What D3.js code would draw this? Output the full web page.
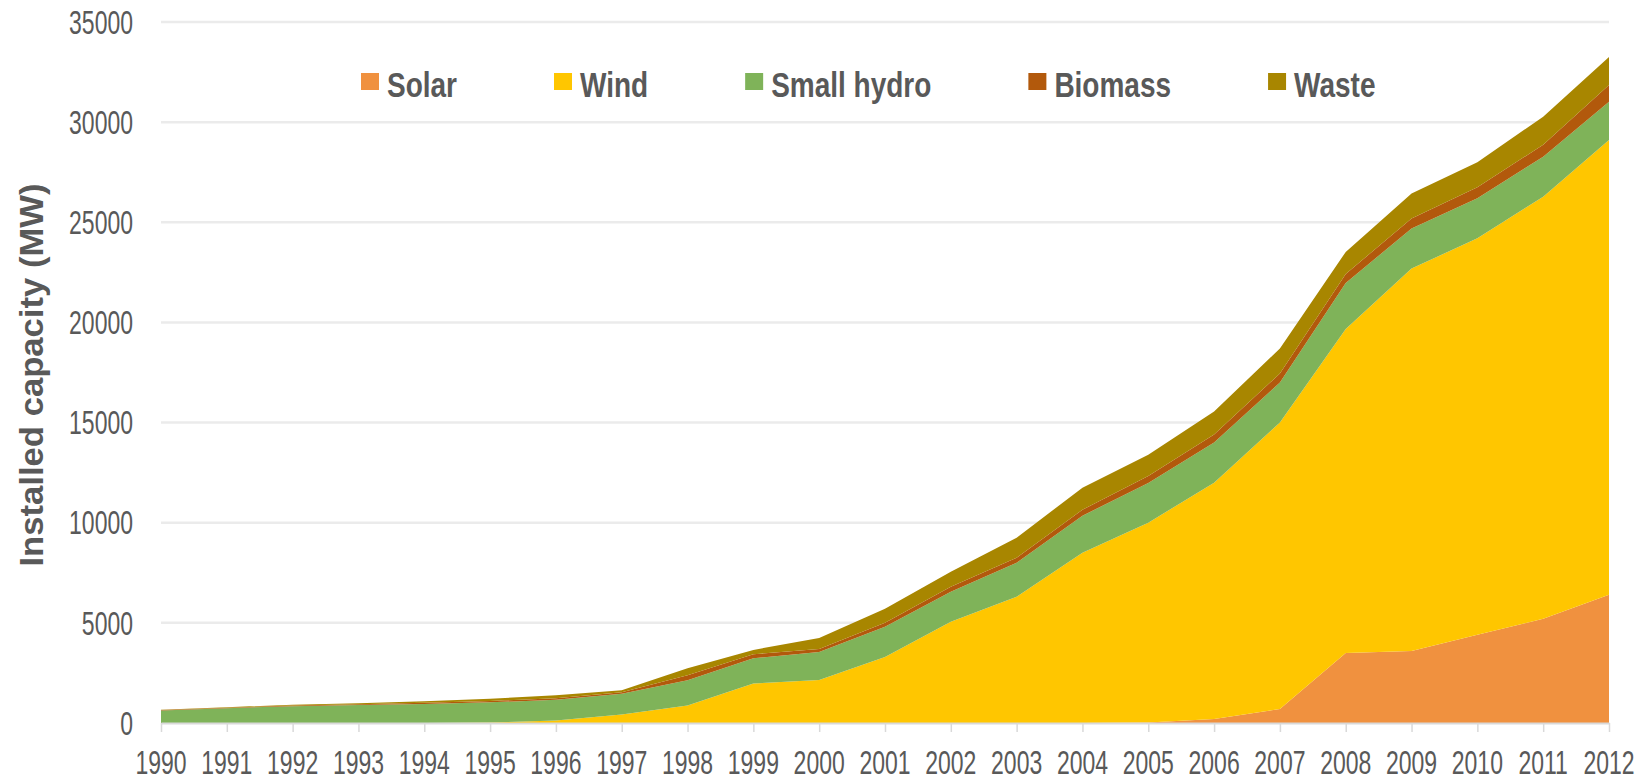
<!DOCTYPE html>
<html>
<head>
<meta charset="utf-8">
<script src="https://cdn.jsdelivr.net/npm/d3@7"></script>
<style>
  body { margin: 0; background: #fff; }
  svg { display: block; font-family: "Liberation Sans", Arial, sans-serif; }
</style>
</head>
<body>
<svg width="1646" height="782"></svg>
<script>
  // data (MW)
  var years = [1990, 1991, 1992, 1993, 1994, 1995, 1996, 1997, 1998, 1999, 2000, 2001,
               2002, 2003, 2004, 2005, 2006, 2007, 2008, 2009, 2010, 2011, 2012];
  var solar = [0, 0, 0, 0, 0, 0, 0, 0, 0, 0, 0, 0, 0, 0, 0, 30, 200, 700, 3500, 3600, 4400, 5200, 6400];
  var wind = [0, 0, 0, 0, 0, 20, 120, 420, 880, 1970, 2150, 3300, 5050, 6300, 8500, 9970, 11800,
              14300, 16170, 19090, 19800, 21080, 22710];
  var smallHydro = [630, 740, 840, 900, 950, 1010, 1040, 1040, 1260, 1260, 1400, 1500, 1500, 1700,
                    1850, 1980, 2000, 2000, 2300, 2000, 2000, 1990, 1910];
  var biomass = [15, 20, 30, 40, 60, 70, 80, 80, 250, 200, 150, 200, 250, 250, 300, 350, 400, 450,
                 450, 500, 550, 600, 830];
  var waste = [15, 30, 40, 50, 80, 110, 140, 100, 340, 220, 550, 700, 750, 1000, 1100, 1060, 1150,
               1250, 1100, 1250, 1250, 1400, 1400];
  var seriesNames = ["Solar", "Wind", "Small hydro", "Biomass", "Waste"];
  var yTicks = [0, 5000, 10000, 15000, 20000, 25000, 30000, 35000];

  var colors = ["#F0913F", "#FFC600", "#7FB359", "#B2590C", "#A88600"];
  var textColor = "#595959";

  var svg = d3.select("svg"),
      margin = {top: 22, right: 37, bottom: 59, left: 161},
      width = svg.attr("width") - margin.left - margin.right,
      height = svg.attr("height") - margin.top - margin.bottom,
      g = svg.append("g").attr("transform", "translate(" + margin.left + "," + margin.top + ")");

  var seriesArrays = [solar, wind, smallHydro, biomass, waste];
  var table = years.map(function(yr, i) {
    var row = {year: yr};
    seriesNames.forEach(function(name, k) { row[name] = seriesArrays[k][i]; });
    return row;
  });

  var x = d3.scaleLinear().domain(d3.extent(years)).range([0, width]),
      y = d3.scaleLinear().domain([0, 35000]).range([height, 0]),
      z = d3.scaleOrdinal().domain(seriesNames).range(colors);

  // gridlines
  g.append("g")
      .attr("class", "grid")
      .selectAll("line")
      .data(yTicks.slice(1))
      .enter().append("line")
      .attr("x1", 0)
      .attr("x2", width)
      .attr("y1", function(d) { return y(d); })
      .attr("y2", function(d) { return y(d); })
      .attr("stroke", "#EBEBEB")
      .attr("stroke-width", 2.5);

  var stack = d3.stack().keys(seriesNames);
  var area = d3.area()
      .x(function(d) { return x(d.data.year); })
      .y0(function(d) { return y(d[0]); })
      .y1(function(d) { return y(d[1]); });

  g.selectAll(".layer")
      .data(stack(table))
      .enter().append("path")
      .attr("class", "layer")
      .attr("d", area)
      .attr("fill", function(d) { return z(d.key); });

  // x axis: line + ticks from d3, labels drawn stretched like the source image
  var xAxis = g.append("g")
      .attr("transform", "translate(0," + height + ")")
      .call(d3.axisBottom(x).tickValues(years).tickSize(9).tickSizeOuter(0).tickFormat(""));
  xAxis.select(".domain").attr("stroke", "#D9D9D9").attr("stroke-width", 2);
  xAxis.selectAll(".tick line").attr("stroke", "#D9D9D9").attr("stroke-width", 1.5);

  g.append("g").selectAll("g")
      .data(years)
      .enter().append("g")
      .attr("transform", function(d) { return "translate(" + x(d) + "," + (height + 51) + ")"; })
      .append("text")
      .attr("transform", "scale(1,1.42)")
      .attr("text-anchor", "middle")
      .attr("fill", textColor)
      .style("font-size", "23px")
      .text(function(d) { return d; });

  // y labels
  g.append("g").selectAll("g")
      .data(yTicks)
      .enter().append("g")
      .attr("transform", function(d) { return "translate(-28," + y(d) + ")"; })
      .append("text")
      .attr("transform", "scale(1,1.45)")
      .attr("text-anchor", "end")
      .attr("dy", "0.35em")
      .attr("fill", textColor)
      .style("font-size", "23px")
      .text(function(d) { return d; });

  // y title
  svg.append("text")
      .attr("transform", "translate(43,375) rotate(-90)")
      .attr("text-anchor", "middle")
      .attr("fill", textColor)
      .attr("textLength", 383)
      .attr("lengthAdjust", "spacingAndGlyphs")
      .style("font-size", "33px")
      .style("font-weight", "bold")
      .text("Installed capacity (MW)");

  // legend
  var lx = 361;
  seriesNames.forEach(function(name) {
    var item = svg.append("g").attr("transform", "translate(" + lx + ",73)");
    item.append("rect")
        .attr("width", 18)
        .attr("height", 17)
        .attr("fill", z(name));
    var t = item.append("g").attr("transform", "translate(26,24)")
      .append("text")
        .attr("transform", "scale(1,1.23)")
        .attr("fill", textColor)
        .style("font-size", "28px")
        .style("font-weight", "bold")
        .text(name);
    lx += 26 + t.node().getComputedTextLength() + 97;
  });
</script>
</body>
</html>
